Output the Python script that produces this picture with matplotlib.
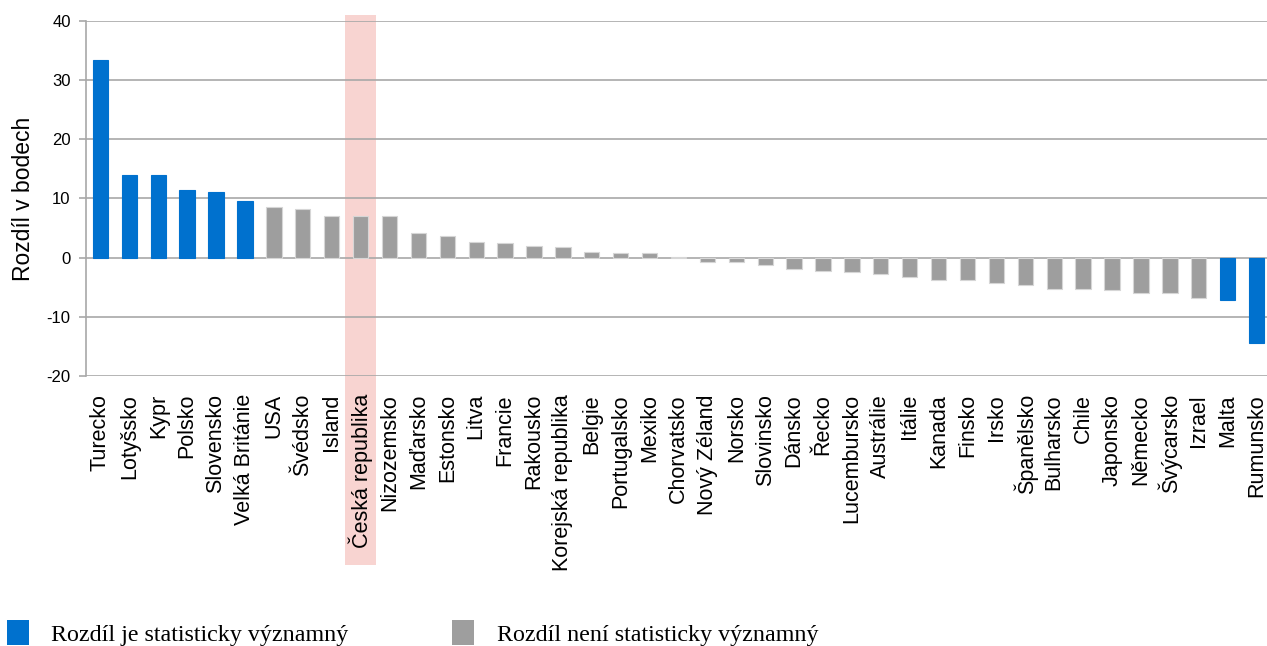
import matplotlib
matplotlib.use("Agg")
import matplotlib.pyplot as plt
from matplotlib.patches import Rectangle, Patch
from matplotlib.transforms import blended_transform_factory

countries = [
    "Turecko", "Lotyšsko", "Kypr", "Polsko", "Slovensko", "Velká Británie",
    "USA", "Švédsko", "Island", "Česká republika", "Nizozemsko", "Maďarsko",
    "Estonsko", "Litva", "Francie", "Rakousko", "Korejská republika", "Belgie",
    "Portugalsko", "Mexiko", "Chorvatsko", "Nový Zéland", "Norsko", "Slovinsko",
    "Dánsko", "Řecko", "Lucembursko", "Austrálie", "Itálie", "Kanada", "Finsko",
    "Irsko", "Španělsko", "Bulharsko", "Chile", "Japonsko", "Německo",
    "Švýcarsko", "Izrael", "Malta", "Rumunsko",
]
differences = [
    33.4, 14.0, 13.9, 11.5, 11.1, 9.5,
    8.5, 8.3, 7.0, 7.0, 7.0, 4.2,
    3.7, 2.7, 2.4, 2.0, 1.8, 1.0,
    0.8, 0.8, 0.1, -0.7, -0.7, -1.2,
    -1.9, -2.3, -2.5, -2.7, -3.2, -3.8, -3.8,
    -4.3, -4.7, -5.3, -5.3, -5.5, -6.0,
    -6.0, -6.8, -7.2, -14.5,
]
significant = [
    True, True, True, True, True, True,
    False, False, False, False, False, False,
    False, False, False, False, False, False,
    False, False, False, False, False, False,
    False, False, False, False, False, False, False,
    False, False, False, False, False, False,
    False, False, True, True,
]
highlight = "Česká republika"
yticks = [-20, -10, 0, 10, 20, 30, 40]

BLUE = "#0071ce"
GREY = "#9e9e9e"
BAND = "#f8d4d1"
GRID = "#a8a8a8"

W, H = 1267, 646
fig = plt.figure(figsize=(W / 100, H / 100), dpi=100)
ax = fig.add_axes([86 / W, 1 - 376 / H, (1271 - 86) / W, (376 - 21) / H])

x = list(range(len(countries)))
colors = [BLUE if s else GREY for s in significant]
edges = [BLUE if s else "#d6d6d6" for s in significant]
ax.bar(x, differences, width=0.53, color=colors, edgecolor=edges,
       linewidth=0.8, zorder=2)

# highlighted country: a pale band running from the top down through its label
hi = countries.index(highlight)
trans = blended_transform_factory(ax.transData, fig.transFigure)
band = Rectangle((hi - 0.55, 1 - 565 / H), 1.1, (565 - 15) / H,
                 transform=trans, facecolor=BAND, edgecolor="none",
                 clip_on=False, zorder=0.2)
ax.add_patch(band)

ax.set_xlim(-0.5, len(countries) - 0.5)
ax.set_ylim(-20, 40)
ax.set_yticks(yticks)
ax.set_yticklabels([str(v) for v in yticks], fontsize=12,
                   family="Liberation Sans")
ax.yaxis.grid(True, color=GRID, linewidth=1.2, zorder=0.5)
ax.set_axisbelow(True)

ax.set_xticks(x)
ax.set_xticklabels(countries, rotation=90, fontsize=15.5,
                   family="Liberation Sans", va="top", ha="center")
ax.tick_params(axis="x", length=0, pad=13)
ax.tick_params(axis="y", length=5, width=1.2, color=GRID, pad=6)

for side in ("top", "right", "bottom"):
    ax.spines[side].set_visible(False)
ax.spines["left"].set_color(GRID)
ax.spines["left"].set_linewidth(1.2)

ax.set_ylabel("Rozdíl v bodech", fontsize=16.5, family="Liberation Sans",
              labelpad=8)

handles = [Patch(facecolor=BLUE, edgecolor="none"),
           Patch(facecolor=GREY, edgecolor="none")]
fig.legend(handles, ["Rozdíl je statisticky významný",
                     "Rozdíl není statisticky významný"],
           loc="lower left", bbox_to_anchor=(6.5 / W, 0.5 / H), ncol=2,
           frameon=False, handlelength=0.92, handleheight=1.2,
           handletextpad=0.95, columnspacing=4.3, borderaxespad=0.0,
           borderpad=0.0,
           prop={"family": "Liberation Serif", "size": 17.3})

fig.savefig("out.png", dpi=100)
